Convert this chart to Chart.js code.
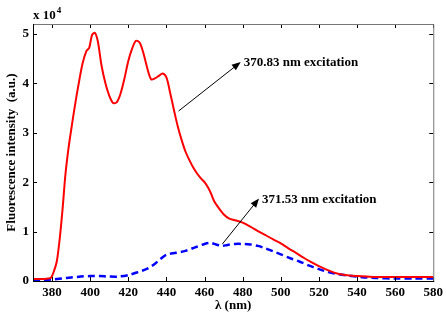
<!DOCTYPE html>
<html>
<head>
<meta charset="utf-8">
<script src="https://cdn.jsdelivr.net/npm/chart.js@4.4.0/dist/chart.umd.min.js"></script>
<style>
  html, body { margin: 0; padding: 0; background: #fff; }
  #wrap { width: 447px; height: 316px; position: relative; }
</style>
</head>
<body>
<div id="wrap"><canvas id="chart"></canvas></div>
<script>
// --- data (values in units of 10^4) ---
const redWl = [370, 372, 374, 376, 378, 379.5, 381, 382.5, 384, 385.5, 387, 388.5, 390, 392, 394, 396, 398, 399.5, 401, 402.5, 404, 406, 408, 410, 412, 414, 416, 418, 420, 422, 424, 426, 428, 430, 432, 434, 436, 438, 440, 442, 444, 446, 448, 450, 452, 454, 456, 458, 460, 462, 463.5, 465, 467, 470, 473, 476, 480, 484, 488, 492, 496, 500, 504, 508, 512, 516, 520, 524, 528, 532, 536, 540, 545, 550, 560, 570, 580];
const redVal = [0.04, 0.04, 0.04, 0.04, 0.05, 0.07, 0.2, 0.4, 0.85, 1.45, 2.15, 2.65, 3.05, 3.55, 4.0, 4.4, 4.65, 4.72, 4.98, 5.02, 4.85, 4.35, 4.0, 3.75, 3.6, 3.62, 3.8, 4.1, 4.45, 4.7, 4.86, 4.82, 4.6, 4.3, 4.08, 4.1, 4.15, 4.2, 4.12, 3.8, 3.45, 3.12, 2.85, 2.62, 2.45, 2.3, 2.18, 2.08, 2.0, 1.88, 1.76, 1.62, 1.5, 1.35, 1.26, 1.23, 1.18, 1.1, 1.01, 0.93, 0.84, 0.76, 0.66, 0.57, 0.47, 0.38, 0.3, 0.23, 0.17, 0.13, 0.11, 0.1, 0.09, 0.08, 0.08, 0.08, 0.08];

const blueWl = [370, 375, 380, 385, 390, 395, 400, 405, 410, 415, 420, 425, 430, 434, 437, 440, 445, 450, 455, 460, 463, 466, 469, 472, 476, 480, 484, 488, 492, 496, 500, 505, 510, 515, 520, 525, 530, 535, 540, 545, 550, 560, 570, 580];
const blueVal = [0.02, 0.02, 0.03, 0.05, 0.07, 0.09, 0.1, 0.1, 0.09, 0.09, 0.12, 0.18, 0.25, 0.35, 0.45, 0.53, 0.57, 0.61, 0.68, 0.75, 0.77, 0.74, 0.71, 0.73, 0.75, 0.75, 0.74, 0.71, 0.66, 0.6, 0.54, 0.46, 0.39, 0.31, 0.24, 0.18, 0.14, 0.11, 0.09, 0.07, 0.06, 0.05, 0.05, 0.05];

const xTicks = [380, 400, 420, 440, 460, 480, 500, 520, 540, 560, 580];
const yTicks = [0, 1, 2, 3, 4, 5];

// annotation: text, arrow start [wl, val], arrow tip [wl, val]
const noteText = ['370.83 nm excitation', '371.53 nm excitation'];
const noteFrom = [[446.4, 3.44], [469.4, 0.75]];
const noteTo = [[479.0, 4.43], [488.6, 1.67]];

const FONT = '"Liberation Serif", "Times New Roman", serif';

const pts = (xs, ys) => xs.map((x, i) => ({ x: x, y: ys[i] }));

// --- plugin: box, inward ticks, arrows, exponent ---
const decor = {
    id: 'decor',
    afterDraw(chart) {
        const ctx = chart.ctx;
        const a = chart.chartArea;
        const xs = chart.scales.x, ys = chart.scales.y;
        ctx.save();

        // inward ticks
        ctx.lineWidth = 1;
        ctx.strokeStyle = '#000';
        xTicks.forEach(v => {
            const px = Math.round(xs.getPixelForValue(v)) + 0.5;
            ctx.beginPath();
            ctx.moveTo(px, a.bottom); ctx.lineTo(px, a.bottom - 4);
            ctx.moveTo(px, a.top); ctx.lineTo(px, a.top + 4);
            ctx.stroke();
        });
        yTicks.forEach(v => {
            const py = Math.round(ys.getPixelForValue(v)) + 0.5;
            ctx.beginPath();
            ctx.moveTo(a.left, py); ctx.lineTo(a.left + 4, py);
            ctx.moveTo(a.right, py); ctx.lineTo(a.right - 4, py);
            ctx.stroke();
        });

        // box
        ctx.strokeStyle = '#777';
        ctx.beginPath();
        ctx.moveTo(a.left, a.top + 0.5); ctx.lineTo(a.right + 0.5, a.top + 0.5);
        ctx.lineTo(a.right + 0.5, a.bottom);
        ctx.stroke();
        ctx.strokeStyle = '#000';
        ctx.beginPath();
        ctx.moveTo(a.left + 0.5, a.top); ctx.lineTo(a.left + 0.5, a.bottom + 0.5);
        ctx.lineTo(a.right + 1, a.bottom + 0.5);
        ctx.stroke();

        // arrows + labels
        ctx.font = 'bold 13px ' + FONT;
        ctx.textBaseline = 'middle';
        ctx.textAlign = 'left';
        ctx.fillStyle = '#000';
        noteText.forEach((t, i) => {
            const x0 = xs.getPixelForValue(noteFrom[i][0]), y0 = ys.getPixelForValue(noteFrom[i][1]);
            const x1 = xs.getPixelForValue(noteTo[i][0]), y1 = ys.getPixelForValue(noteTo[i][1]);
            const ang = Math.atan2(y1 - y0, x1 - x0);
            ctx.beginPath();
            ctx.moveTo(x0, y0); ctx.lineTo(x1 - 5 * Math.cos(ang), y1 - 5 * Math.sin(ang));
            ctx.stroke();
            ctx.beginPath();
            ctx.moveTo(x1, y1);
            ctx.lineTo(x1 - 9 * Math.cos(ang) + 3.5 * Math.sin(ang), y1 - 9 * Math.sin(ang) - 3.5 * Math.cos(ang));
            ctx.lineTo(x1 - 9 * Math.cos(ang) - 3.5 * Math.sin(ang), y1 - 9 * Math.sin(ang) + 3.5 * Math.cos(ang));
            ctx.closePath();
            ctx.fill();
            ctx.fillText(t, x1 + 3, y1 + 1);
        });

        // exponent
        ctx.textBaseline = 'alphabetic';
        ctx.font = 'bold 13px ' + FONT;
        ctx.fillText('x 10', a.left, 19);
        const w = ctx.measureText('x 10').width;
        ctx.font = 'bold 9px ' + FONT;
        ctx.fillText('4', a.left + w + 1, 13);
        ctx.restore();
    }
};

new Chart(document.getElementById('chart'), {
    type: 'line',
    data: {
        datasets: [
            {
                data: pts(redWl, redVal),
                borderColor: '#ff0000', borderWidth: 2, tension: 0.3,
                pointRadius: 0, fill: false
            },
            {
                data: pts(blueWl, blueVal),
                borderColor: '#0000ff', borderWidth: 2.5, borderDash: [7, 4], tension: 0.3,
                pointRadius: 0, fill: false
            }
        ]
    },
    options: {
        responsive: true, maintainAspectRatio: false, animation: false,
        layout: { padding: { top: 24, right: 13, left: 0, bottom: 0 } },
        plugins: { legend: { display: false }, tooltip: { enabled: false } },
        scales: {
            x: {
                type: 'linear', min: 370, max: 580,
                grid: { display: false, drawTicks: false },
                border: { display: false },
                afterBuildTicks: s => { s.ticks = xTicks.map(v => ({ value: v })); },
                afterFit: s => { s.height = 35; },
                ticks: { color: '#000', padding: 4, maxRotation: 0, font: { family: FONT, size: 13, weight: 'bold' } },
                title: { display: true, text: 'λ (nm)', color: '#000', padding: { top: 0, bottom: 3 }, font: { family: FONT, size: 13, weight: 'bold' } }
            },
            y: {
                min: 0, max: 5.2,
                grid: { display: false, drawTicks: false },
                border: { display: false },
                afterBuildTicks: s => { s.ticks = yTicks.map(v => ({ value: v })); },
                afterFit: s => { s.width = 33; },
                ticks: { color: '#000', padding: 4, font: { family: FONT, size: 13, weight: 'bold' } },
                title: { display: true, text: 'Fluorescence intensity  (a.u.)', color: '#000', padding: { top: 4, bottom: 0 }, font: { family: FONT, size: 13, weight: 'bold' } }
            }
        }
    },
    plugins: [decor]
});
</script>
</body>
</html>
